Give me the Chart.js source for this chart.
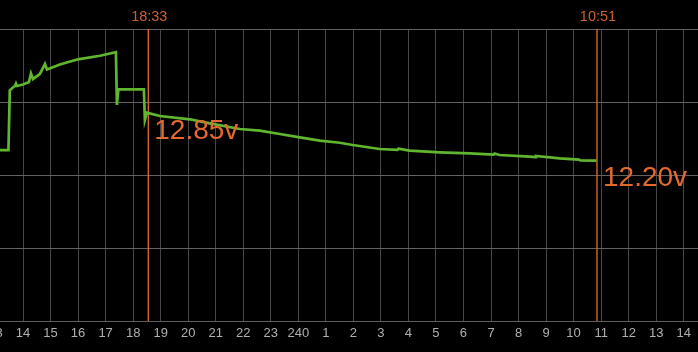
<!DOCTYPE html>
<html>
<head>
<title>Battery Voltage</title>
<script src="https://cdn.jsdelivr.net/npm/chart.js"></script>
<style>
  body { margin: 0; background: #000; }
</style>
</head>
<body>
<canvas id="chart" width="698" height="352"></canvas>
<script>
// hours since midnight of day 1 (next day = 24 + h)
const readingHours = [13.163, 13.453, 13.47, 13.519, 13.599, 13.707, 13.744, 13.78, 13.998, 14.216, 14.288, 14.361,
  14.615, 14.796, 14.869, 15.341, 15.994, 16.793, 17.374, 17.41, 17.464, 18.39, 18.426, 18.499, 18.971, 20.06,
  20.785, 21.874, 22.6, 23.326, 24.052, 24.778, 25.504, 25.976, 26.956, 27.6, 27.64, 28.045, 29.134, 30.222,
  31.1, 31.13, 31.311, 32.401, 32.6, 32.63, 33.489, 34.2, 34.24, 34.832];
const readingVolts = [12.34, 12.34, 12.34, 13.16, 13.188, 13.219, 13.253, 13.22, 13.24, 13.274, 13.39, 13.315,
  13.384, 13.521, 13.445, 13.514, 13.585, 13.634, 13.681, 12.959, 13.174, 13.174, 12.753, 12.853, 12.808, 12.763,
  12.708, 12.63, 12.607, 12.562, 12.516, 12.47, 12.442, 12.411, 12.356, 12.345, 12.36, 12.333, 12.311, 12.297,
  12.28, 12.295, 12.274, 12.251, 12.245, 12.262, 12.229, 12.21, 12.2, 12.196];

const hourTicks = [13, 14, 15, 16, 17, 18, 19, 20, 21, 22, 23, 24, 25, 26, 27, 28, 29, 30, 31, 32, 33, 34, 35, 36, 37, 38];
const hourLabels = ['13', '14', '15', '16', '17', '18', '19', '20', '21', '22', '23', '240', '1', '2', '3', '4', '5',
  '6', '7', '8', '9', '10', '11', '12', '13', '14'];

const markerHours = [18.55, 34.85];
const markerTimes = ['18:33', '10:51'];
const markerVolts = [12.85, 12.20];
const markerLabels = ['12.85v', '12.20v'];

const orange = '#e4692f';
const font = '"Liberation Sans", Arial, sans-serif';

const points = readingHours.map((h, i) => ({ x: h, y: readingVolts[i] }));
const markerSets = markerHours.map(h => ({
  data: [{ x: h, y: 10 }, { x: h, y: 14 }],
  borderColor: orange,
  borderWidth: 1.3,
  pointRadius: 0
}));

const markerText = {
  id: 'markerText',
  afterDraw(chart) {
    const ctx = chart.ctx;
    const xs = chart.scales.x, ys = chart.scales.y;
    ctx.save();
    markerHours.forEach((h, i) => {
      const px = xs.getPixelForValue(h);
      ctx.fillStyle = '#c9622d';
      ctx.font = '14.5px ' + font;
      ctx.textAlign = 'center';
      ctx.textBaseline = 'middle';
      ctx.fillText(markerTimes[i], px + 1, 17);
      ctx.fillStyle = orange;
      ctx.font = '28px ' + font;
      ctx.textAlign = 'left';
      ctx.fillText(markerLabels[i], px + 6, ys.getPixelForValue(markerVolts[i]) + 18);
    });
    ctx.restore();
  }
};

new Chart(document.getElementById('chart'), {
  type: 'line',
  data: {
    datasets: [{
      data: points,
      borderColor: '#60b62e',
      borderWidth: 2.7,
      pointRadius: 0,
      tension: 0
    }, ...markerSets]
  },
  options: {
    responsive: false,
    animation: false,
    devicePixelRatio: 1,
    layout: { padding: { top: 29, left: 0, right: 0, bottom: 0 } },
    plugins: { legend: { display: false }, tooltip: { enabled: false } },
    scales: {
      x: {
        type: 'linear',
        min: 13.163,
        max: 38.519,
        afterBuildTicks: s => { s.ticks = hourTicks.map(v => ({ value: v })); },
        afterFit: s => { s.height = 31; s.paddingLeft = 0; s.paddingRight = 0; },
        grid: { color: '#474747', lineWidth: 1, drawTicks: false },
        border: { color: '#5e5e5e' },
        ticks: {
          autoSkip: false,
          maxRotation: 0,
          padding: 5,
          color: '#b0b0b0',
          font: { family: font, size: 13 },
          callback: v => hourLabels[hourTicks.indexOf(v)]
        }
      },
      y: {
        min: 10,
        max: 14,
        afterFit: s => { s.width = 0; s.paddingTop = 0; s.paddingBottom = 0; },
        ticks: { display: false, stepSize: 1 },
        grid: { color: '#626262', lineWidth: 1, drawTicks: false },
        border: { display: false }
      }
    }
  },
  plugins: [markerText]
});
</script>
</body>
</html>
